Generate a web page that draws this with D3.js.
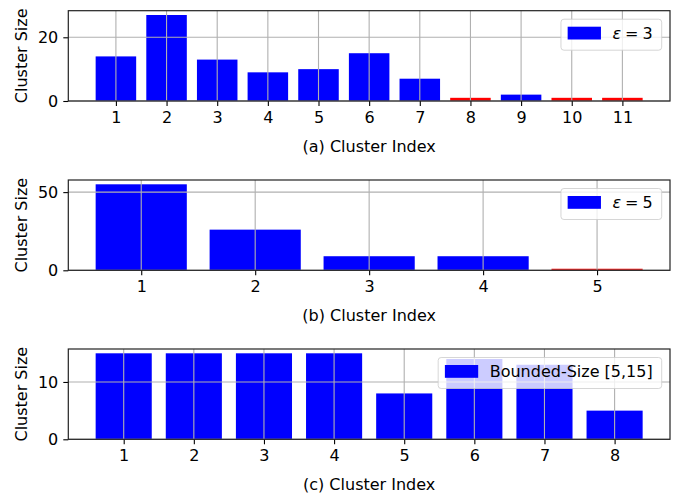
<!DOCTYPE html>
<html>
<head>
<meta charset="utf-8">
<script src="https://cdn.jsdelivr.net/npm/d3@7"></script>
<style>
  body { margin: 0; background: #fff; }
  svg { display: block; font-family: "DejaVu Sans", sans-serif; }
</style>
</head>
<body>
<div id="chart"></div>
<script>
// Tailles des clusters par panneau
const sizesA = [14, 27, 13, 9, 10, 15, 7, 1, 2, 1, 1];
const sizesB = [55, 26, 9, 9, 1];
const sizesC = [15, 15, 15, 15, 8, 14, 13, 5];

const yTicksA = [0, 20];
const yTicksB = [0, 50];
const yTicksC = [0, 10];

const xLabels = ["(a) Cluster Index", "(b) Cluster Index", "(c) Cluster Index"];
const legendParams = ["3", "5", null];
const legendLabelC = "Bounded-Size [5,15]";

const width = 678;
const height = 493;
const fontSize = 16;

const panels = [
    { sizes: sizesA, yTicks: yTicksA, xLabel: xLabels[0], eps: legendParams[0], top: 10.7 },
    { sizes: sizesB, yTicks: yTicksB, xLabel: xLabels[1], eps: legendParams[1], top: 180 },
    { sizes: sizesC, yTicks: yTicksC, xLabel: xLabels[2], eps: legendParams[2], top: 349 }
];
const axLeft = 68.3, axRight = 670, axHeight = 90.3;

const svg = d3.select("#chart")
    .append("svg")
    .attr("width", width)
    .attr("height", height)
    .style("font-size", fontSize + "px");

panels.forEach(p => drawPanel(p));

function drawPanel(p) {
    const n = p.sizes.length;
    const lo = 0.6, hi = n + 0.4, pad = 0.05 * (hi - lo);
    const bottom = p.top + axHeight;

    const x = d3.scaleLinear()
        .domain([lo - pad, hi + pad])
        .range([axLeft, axRight]);
    const y = d3.scaleLinear()
        .domain([0, d3.max(p.sizes) * 1.05])
        .range([bottom, p.top]);

    const g = svg.append("g");
    const idx = d3.range(1, n + 1);

    // barres
    g.append("g").selectAll("rect")
        .data(p.sizes)
        .join("rect")
        .attr("x", (d, i) => x(i + 1 - 0.4))
        .attr("width", x(1.8) - x(1))
        .attr("y", d => y(d))
        .attr("height", d => y(0) - y(d))
        .attr("fill", d => d === 1 ? "#ff0000" : "#0000ff");

    // grille
    g.append("g").selectAll("line")
        .data(idx)
        .join("line")
        .attr("x1", d => x(d)).attr("x2", d => x(d))
        .attr("y1", p.top).attr("y2", bottom)
        .attr("stroke", "#b0b0b0").attr("stroke-width", 1.1);
    g.append("g").selectAll("line")
        .data(p.yTicks)
        .join("line")
        .attr("x1", axLeft).attr("x2", axRight)
        .attr("y1", d => y(d)).attr("y2", d => y(d))
        .attr("stroke", "#b0b0b0").attr("stroke-width", 1.1);

    // axes
    const ax = g.append("g")
        .attr("transform", `translate(0, ${bottom})`)
        .call(d3.axisBottom(x).tickValues(idx).tickFormat(d3.format("d")).tickSize(5).tickPadding(5));
    const ay = g.append("g")
        .attr("transform", `translate(${axLeft}, 0)`)
        .call(d3.axisLeft(y).tickValues(p.yTicks).tickSize(5).tickPadding(5));
    [ax, ay].forEach(a => {
        a.select(".domain").remove();
        a.selectAll("line").attr("stroke", "#000").attr("stroke-width", 1.1);
        a.selectAll("text")
            .attr("fill", "#000")
            .style("font-size", fontSize + "px")
            .style("font-family", "DejaVu Sans");
    });
    ax.selectAll("text").attr("dy", "0.75em");

    // cadre
    g.append("rect")
        .attr("x", axLeft).attr("y", p.top)
        .attr("width", axRight - axLeft).attr("height", axHeight)
        .attr("fill", "none").attr("stroke", "#222").attr("stroke-width", 1.2);

    // titres des axes
    g.append("text")
        .attr("transform", `translate(27, ${(p.top + bottom) / 2}) rotate(-90)`)
        .attr("text-anchor", "middle")
        .text("Cluster Size");
    g.append("text")
        .attr("x", (axLeft + axRight) / 2)
        .attr("y", bottom + 50.8)
        .attr("text-anchor", "middle")
        .text(p.xLabel);

    // légende
    const leg = g.append("g");
    const frame = leg.append("rect")
        .attr("fill", "#fff").attr("fill-opacity", 0.8)
        .attr("stroke", "#ccc").attr("stroke-opacity", 0.8)
        .attr("rx", 3);
    const label = leg.append("text").attr("y", p.top + 28.3);
    if (p.eps) {
        label.append("tspan").style("font-style", "italic").text("ε");
        label.append("tspan").text("\u2005=\u2005" + p.eps);
    } else {
        label.text(legendLabelC);
    }
    const tw = label.node().getComputedTextLength();
    const boxRight = axRight - 8.3;
    const textX = boxRight - 9 - tw;
    label.attr("x", textX);
    const boxLeft = textX - 51.5;
    frame.attr("x", boxLeft).attr("y", p.top + 8.5)
        .attr("width", boxRight - boxLeft).attr("height", 31);
    leg.append("rect")
        .attr("x", boxLeft + 6.7).attr("y", p.top + 16)
        .attr("width", 33.3).attr("height", 12.8)
        .attr("fill", "#0000ff");
}
</script>
</body>
</html>
